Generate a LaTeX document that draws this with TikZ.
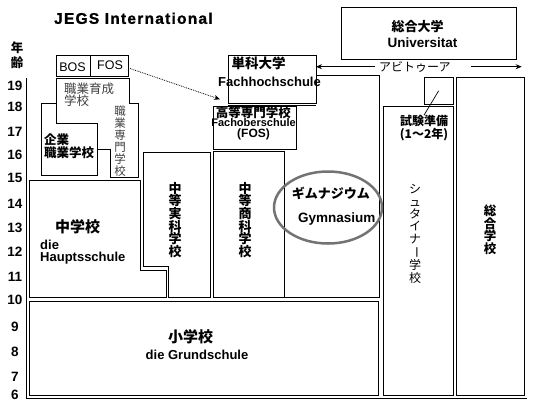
\documentclass[tikz,border=0pt]{standalone}
\usepackage{fontspec}
\setmainfont{Liberation Sans}
\newfontfamily\jp{Noto Sans CJK JP}
\usetikzlibrary{fit,calc,arrows.meta}
\newcommand{\fs}[1]{\fontsize{#1}{#1}\selectfont}
\begin{document}
\begin{tikzpicture}[x=1pt,y=-1pt,
  ln/.style={draw=black,line width=0.9pt},
  box/.style={ln,inner sep=0pt,outer sep=0pt},
  lab/.style={inner sep=0pt,font=\bfseries\fs{13}},
  jl/.style={inner sep=0pt,font=\jp\bfseries\fs{13}},
  num/.style={inner sep=0pt,font=\bfseries\fs{13.5}},
  vj/.style={inner sep=0pt,align=center,font=\jp\bfseries\fontsize{13}{12.7}\selectfont},
  tip/.style={-{Stealth[length=6pt,width=5pt]}}
]
\useasboundingbox[fill=white] (0,0) rectangle (534,405);

% title
\node[inner sep=0pt,font=\bfseries\fs{15.5}\addfontfeature{LetterSpace=8,FakeBold=1.2}] (title) at (133.4,18.3) {JEGS International};

% axis
\coordinate (axtop) at (26.7,78);
\coordinate (axcorner) at (26.7,398);
\coordinate (axend) at (527,398);
\draw[ln] (axtop) -- (axcorner) -- (axend);
\node[jl,font=\jp\bfseries\fs{12.5}] (nen) at (17,48) {年};
\node[jl,font=\jp\bfseries\fs{12.5}] (rei) at (17,63) {齢};
\foreach \n/\yy in {19/86,18/107,17/131.7,16/155,15/178,14/204,13/227.7,12/251.7,11/276.7,10/299.5,9/326.7,8/352,7/376.7,6/394.8}
  \node[num] (n\n) at (15,\yy) {\n};

% university
\node[box,fit={(341,7)(516,59)}] (univ) {};
\node[jl] (univj) at (417.5,26.7) {総合大学};
\node[lab,font=\bfseries\fs{13.5}] (univg) at (422.5,42.7) {Universitat};

% gymnasium outline
\draw[ln] (316,75) -- (379,75) -- (379,297) -- (284,297);

% Fachhochschule
\node[box,fill=white,fit={(228,55)(316,103)}] (fhs) {};
\draw[ln] ($(fhs.south west)+(0,2.5)$) -- ($(fhs.south east)+(0,2.5)$);
\node[jl,anchor=west,font=\jp\bfseries\fs{13.5}] (fhsj) at (231.5,63.3) {単科大学};
\node[lab] (fhsg) at (269.5,81.7) {Fachhochschule};

% Fachoberschule
\node[box,fit={(213,106)(296.7,149)}] (kosen) {};
\node[jl,font=\jp\bfseries\fs{12.5}] (kosenj) at (253.3,112.7) {高等専門学校};
\node[inner sep=0pt,align=center,font=\bfseries\fontsize{11}{11.3}\selectfont] (kosenfob) at (253.5,129.5) {Fachoberschule\\{\fontsize{12}{11.3}\selectfont(FOS)}};

% Realschule / Handelsschule
\node[box,fit={(213,151)(284,297)}] (shoka) {};
\node[vj] (shokat) at (245,220) {中\\等\\商\\科\\学\\校};
\draw[ln] (143,152) -- (210,152) -- (210,297) -- (168,297) -- (168,266) -- (143,266) -- cycle;
\node[vj] (jikka) at (175,220) {中\\等\\実\\科\\学\\校};

% Hauptschule
\draw[ln] (29.5,180) -- (140,180) -- (140,270) -- (166,270) -- (166,297) -- (29.5,297) -- cycle;
\node[jl,font=\jp\bfseries\fs{15}] (chu) at (77.5,226.7) {中学校};
\node[inner sep=0pt,anchor=north west,align=left,font=\bfseries\fontsize{13}{11.5}\selectfont] (haupt) at (40,240) {die\\Hauptsschule};

% Grundschule
\node[box,fit={(29.5,301)(378,395)}] (sho) {};
\node[jl,font=\jp\bfseries\fs{15}] (shoj) at (190.5,337) {小学校};
\node[lab] (shog) at (197,354.6) {die Grundschule};

% Steiner school
\node[box,fit={(383.3,106)(453.3,395)}] (stein) {};
\node[box,fit={(424,77.5)(453.3,104)}] (prep) {};
\node[jl,align=center,font=\jp\bfseries\fontsize{12}{10.5}\selectfont] (shiken) at (424,128) {試験準備\\(1〜2年)};
\draw[line width=0.7pt] (prep.center) -- (shiken.north);
\node[inner sep=0pt,align=center,font=\jp\fontsize{12}{12.3}\selectfont] (steint) at (415,234) {シ\\ュ\\タ\\イ\\ナ\\\rotatebox[origin=c]{-90}{ー}\\学\\校};

% Gesamtschule
\node[box,fit={(456.7,77.7)(524.3,395)}] (sogo) {};
\node[vj,font=\jp\bfseries\fontsize{12.5}{12.5}\selectfont] (sogot) at (490,230) {総\\合\\学\\校};

% Gymnasium
\draw[line width=2.5pt,draw=black!55] (328,207.5) ellipse [x radius=54, y radius=36];
\node[inner sep=0pt,font=\jp\bfseries\fs{13}] (gymj) at (330.8,193.3) {ギムナジウム};
\node[lab,font=\bfseries\fs{13.5}] (gymg) at (336.7,219.5) {Gymnasium};

% vocational
\node[box,fit={(56,55)(128,76)}] (bosfos) {};
\draw[ln] (90.7,55) -- (90.7,76);
\node[inner sep=0pt,font=\fs{12.5}] (bos) at (72.5,66.7) {BOS};
\node[inner sep=0pt,font=\fs{12.5}] (fosl) at (110,65) {FOS};
\draw[ln] (56,78) -- (129,78) -- (129,103) -- (138,103) -- (138,177) -- (110,177) -- (110,149) -- (97,149) -- (97,123) -- (56,123) -- cycle;
\draw[ln] (56,103) -- (41,103) -- (41,175) -- (97,175) -- (97,149);
\node[anchor=north west,align=left,inner sep=0pt,font=\jp\fontsize{12.5}{12}\selectfont,text=black!75] (ikusei) at (64,83) {職業育成\\学校};
\node[anchor=north west,align=left,inner sep=0pt,font=\jp\bfseries\fontsize{12.5}{11}\selectfont] (kigyo) at (44,134) {企業\\職業学校};
\node[inner sep=0pt,align=center,font=\jp\fontsize{11.5}{12}\selectfont,text=black!75] (senmon) at (120,141) {職\\業\\専\\門\\学\\校};

% dotted arrow
\draw[densely dotted,line width=0.8pt,tip] ($(bosfos.east)+(2,3)$) -- ($(kosen.north west)+(7,-6.7)$);

% Abitur arrows
\node[inner sep=0pt,font=\jp\fs{12}] (abi) at (414.8,66.7) {アビトゥーア};
\coordinate (abiL) at (375,66.7);
\coordinate (abiRs) at (470.7,66.7);
\coordinate (abiR) at (521.7,66.7);
\draw[line width=0.8pt,tip] (abiL) -- (abi -| fhs.east);
\draw[line width=0.8pt,tip] (abiRs) -- (abiR);
\end{tikzpicture}
\end{document}
